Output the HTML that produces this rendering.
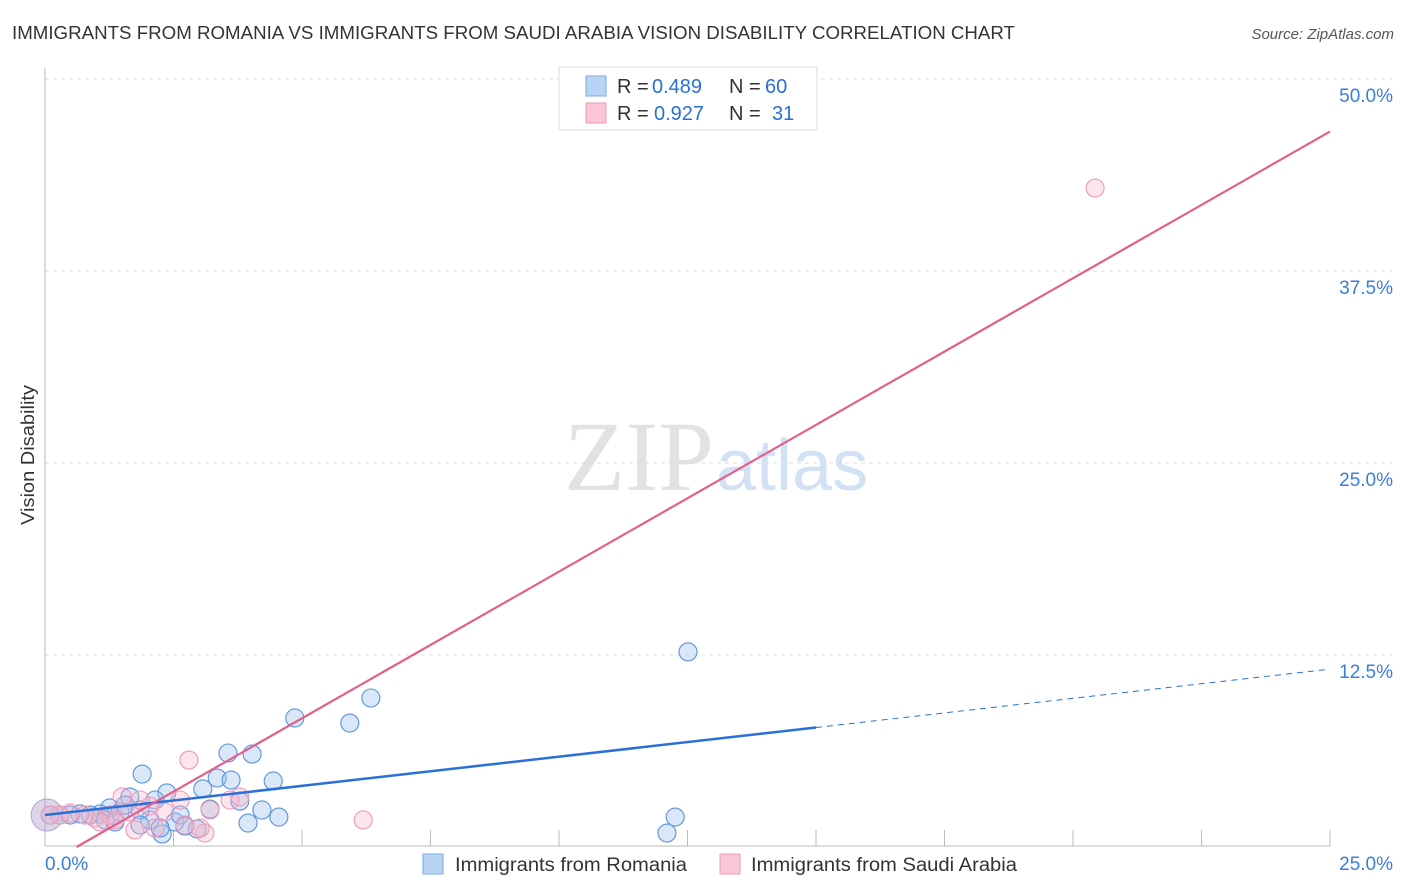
<!DOCTYPE html>
<html><head><meta charset="utf-8"><style>
body{margin:0;background:#fff;font-family:"Liberation Sans",sans-serif}
svg{display:block}
</style></head><body>
<svg width="1406" height="892">
<text x="12" y="39" font-size="18" fill="#333" textLength="1003" lengthAdjust="spacingAndGlyphs">IMMIGRANTS FROM ROMANIA VS IMMIGRANTS FROM SAUDI ARABIA VISION DISABILITY CORRELATION CHART</text>
<text x="1394" y="39" font-size="15" fill="#555" font-style="italic" text-anchor="end">Source: ZipAtlas.com</text>
<text x="714" y="490" font-size="100" fill="#e2e2e2" text-anchor="end" font-family="Liberation Serif,serif">ZIP</text>
<text x="716" y="490" font-size="72" fill="#d2e2f4">atlas</text>
<text transform="translate(34,455) rotate(-90)" font-size="18" fill="#333" text-anchor="middle" textLength="140" lengthAdjust="spacingAndGlyphs">Vision Disability</text>
<g id="grid"></g><g id="axes"></g><g id="marks"></g>
<g>
<rect x="559" y="67" width="258" height="63" fill="#fff" stroke="#ddd"/>
<rect x="586" y="76" width="20" height="20" fill="#b9d3f5" stroke="#7aa8e6"/>
<rect x="586" y="103" width="20" height="20" fill="#f9c6d6" stroke="#ec9ab4"/>
<g font-size="20" fill="#333">
<text x="617" y="93">R =</text><text x="652" y="93" fill="#2a6fd6">0.489</text><text x="729" y="93">N =</text><text x="765" y="93" fill="#2a6fd6">60</text></g>
<g font-size="20" fill="#333">
<text x="617" y="120">R =</text><text x="654" y="120" fill="#2a6fd6">0.927</text><text x="729" y="120">N =</text><text x="772" y="120" fill="#2a6fd6">31</text></g>
</g>
<g>
<rect x="423" y="854" width="20" height="20" fill="#b9d3f5" stroke="#7aa8e6"/>
<text x="455" y="871" font-size="19" fill="#333" textLength="232" lengthAdjust="spacingAndGlyphs">Immigrants from Romania</text>
<rect x="720" y="854" width="20" height="20" fill="#f9c6d6" stroke="#ec9ab4"/>
<text x="751" y="871" font-size="19" fill="#333" textLength="266" lengthAdjust="spacingAndGlyphs">Immigrants from Saudi Arabia</text>
</g>
</svg>
<script>
const yTicks=[12.5,25,37.5,50];
const yTickLabels=["12.5%","25.0%","37.5%","50.0%"];
const xTickLabels=["0.0%","25.0%"];
const blueX=[4.86,5.93,6.34,12.51,1.89,3.56,4.03,3.35,3.62,4.44,3.07,2.37,3.79,4.22,4.55,3.95,3.21,2.96,2.28,2.04,2.53,12.10,12.26,1.65,2.14,1.26,1.46,1.07,0.88,0.68,0.49,0.29,0.10,1.56,1.85,2.63,1.17,1.36,1.85,2.24,2.72];
const blueY=[8.40,8.07,9.70,12.70,4.75,6.12,6.05,4.49,4.36,4.30,3.78,3.52,2.99,2.41,1.95,1.56,2.47,1.17,0.85,1.76,1.63,0.91,1.95,3.26,3.06,2.54,2.28,2.15,2.08,2.15,2.08,2.08,2.08,2.73,2.41,2.08,1.76,1.63,1.43,1.24,1.37];
const pinkX=[20.43,2.80,6.19,3.60,3.79,1.50,2.63,2.04,1.75,3.11,3.02,2.14,1.65,1.26,0.97,0.78,0.49,0.29,0.10,1.85,2.33,2.72,3.21,1.36,1.07];
const pinkY=[42.90,5.66,1.76,3.06,3.26,3.26,3.06,2.67,1.11,0.91,1.24,1.24,2.28,2.08,1.89,2.08,2.21,2.08,2.08,3.06,2.28,1.43,2.41,1.76,1.63];
const blueLine=[2.08,0.38];
const pinkLine=[-1.17,1.91];
const X=v=>45+v*51.4, Y=v=>847-v*15.36;
const NS="http://www.w3.org/2000/svg";
function mk(p,t,a){const e=document.createElementNS(NS,t);for(const k in a)e.setAttribute(k,a[k]);document.getElementById(p).appendChild(e);return e;}
yTicks.forEach((t,i)=>{
 const g=mk('grid','line',{x1:45,x2:1392,y1:Y(t),y2:Y(t),stroke:'#ddd','stroke-dasharray':'4,4'});
 
 
 const l=mk('grid','text',{x:1393,y:Y(t)+23,'font-size':19,fill:'#3b7dd8','text-anchor':'end'});
 l.textContent=yTickLabels[i];
 
 
});
mk('grid','line',{x1:45,x2:1392,y1:79,y2:79,stroke:'#ddd','stroke-dasharray':'4,4'});
mk('axes','line',{x1:45,x2:45,y1:68,y2:846,stroke:'#bbb'});
mk('axes','line',{x1:45,x2:1330,y1:846,y2:846,stroke:'#bbb'});
for(let i=1;i<=10;i++){const t=mk('axes','line',{x1:X(i*2.5),x2:X(i*2.5),y1:830,y2:846,stroke:'#bbb'});
 
 }
[[0,45,'start'],[25,1393,'end']].forEach((p,i)=>{const l=mk('axes','text',{x:p[1],y:870,'font-size':19,fill:'#3b7dd8','text-anchor':p[2]});
 l.textContent=xTickLabels[i];
 
 });
mk('marks','circle',{cx:X(0.04),cy:Y(2.08),r:16,fill:'rgba(170,150,200,0.4)',stroke:'rgba(140,120,190,0.6)'});
blueX.forEach((x,i)=>{const c=mk('marks','circle',{cx:X(x),cy:Y(blueY[i]),r:9,fill:'rgba(160,196,240,0.4)',stroke:'#5a92dc','stroke-width':1.1});
 
 });
pinkX.forEach((x,i)=>{const c=mk('marks','circle',{cx:X(x),cy:Y(pinkY[i]),r:9,fill:'rgba(246,180,200,0.35)',stroke:'#ee9ab6','stroke-width':1.1});
 
 });
const bl=mk('marks','line',{x1:X(0),y1:Y(blueLine[0]),x2:X(15),y2:Y(blueLine[0]+15*blueLine[1]),stroke:'#2a70d6','stroke-width':2.5});


const bd=mk('marks','line',{x1:X(15),y1:Y(blueLine[0]+15*blueLine[1]),x2:X(25),y2:Y(blueLine[0]+25*blueLine[1]),stroke:'#2a70d6','stroke-width':1,'stroke-dasharray':'6,5'});


const x0=-pinkLine[0]/pinkLine[1];
const pl=mk('marks','line',{x1:X(x0),y1:Y(0),x2:X(25),y2:Y(pinkLine[0]+25*pinkLine[1]),stroke:'#e4608c','stroke-width':2.2});


</script>
</body></html>
